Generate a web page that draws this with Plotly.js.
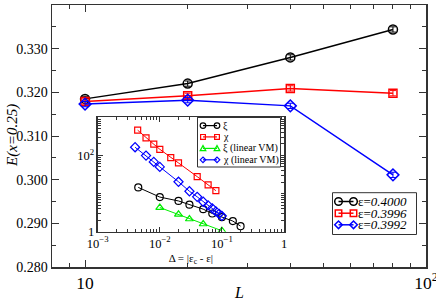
<!DOCTYPE html>
<html>
<head>
<meta charset="utf-8">
<script src="https://cdn.plot.ly/plotly-3.0.1.min.js"></script>
<style>html,body{margin:0;padding:0;background:#fff;}#plot{width:436px;height:301px;}</style>
</head>
<body>
<div id="plot"></div>
<script>
// ---- main chart data ----
const L = [10, 20, 40, 80];
const E_4000 = [0.3185, 0.3220, 0.3280, 0.3344];
const E_3996 = [0.3179, 0.3192, 0.3209, 0.3198];
const E_3992 = [0.3173, 0.3182, 0.3169, 0.3011];
const errE = [0.0006, 0.0006, 0.0006, 0.0006];
const seriesNames = ['ε=<i>0.4000</i>', 'ε=<i>0.3996</i>', 'ε=<i>0.3992</i>'];

// ---- inset data ----
const dXi = [0.0045, 0.01, 0.02, 0.03, 0.05, 0.07, 0.1, 0.15, 0.2];
const xi = [14.5, 8.1, 6.4, 5.1, 3.9, 3.0, 2.4, 1.9, 1.4];
const dChi = [0.0044, 0.006, 0.008, 0.01, 0.015, 0.02, 0.04, 0.06, 0.08];
const chi = [459, 288, 197, 145, 87.5, 63.5, 27.8, 16.8, 11.9];
const dXiVM = [0.01, 0.02, 0.03, 0.05, 0.1];
const xiVM = [4.3, 2.86, 2.15, 1.59, 1.06];
const dChiVM = [0.004, 0.006, 0.008, 0.01, 0.02, 0.03, 0.04, 0.05, 0.06, 0.07, 0.08, 0.09, 0.1];
const chiVM = [164, 99, 67.5, 50, 20.4, 11.5, 8.2, 6.1, 4.9, 4.1, 3.4, 2.95, 2.6];
const insetNames = ['ξ', 'χ', 'ξ (linear VM)', 'χ (linear VM)'];

const FONT = 'Liberation Serif, Times New Roman, serif';
const W = 436, H = 301;
const M = {l: 52, r: 10, t: 5, b: 34};
const PW = W - M.l - M.r, PH = H - M.t - M.b;
const px = v => (v - M.l) / PW;          // pixel x -> paper
const py = v => (H - M.b - v) / PH;      // pixel y -> paper

const mainColors = ['#000000', '#ff0000', '#0000ff'];
const mainSymbols = ['circle', 'square', 'diamond'];
const insetColors = ['#000000', '#ff0000', '#00ee00', '#0000ff'];
const insetSymbols = ['circle', 'square', 'triangle-up', 'diamond'];

function mainTrace(y, i) {
  const c = mainColors[i];
  return {
    x: L, y: y, name: seriesNames[i], type: 'scatter', mode: 'lines+markers', showlegend: false,
    line: {color: c, width: 1.5},
    marker: {symbol: mainSymbols[i] + '-open', size: mainSymbols[i] === 'square' ? 8 : 9, color: c, line: {color: c, width: 1.5}},
    error_y: {type: 'data', array: errE, visible: true, color: c, thickness: 1, width: 3}
  };
}
function insetTrace(x, y, i) {
  const c = insetColors[i];
  return {
    x: x, y: y, name: insetNames[i], type: 'scatter', mode: 'lines+markers', showlegend: false,
    xaxis: 'x2', yaxis: 'y2',
    line: {color: c, width: 1},
    marker: {symbol: insetSymbols[i] + '-open', size: insetSymbols[i] === 'square' ? 6 : 7, color: c, line: {color: c, width: 1.2}}
  };
}

const data = [
  mainTrace(E_4000, 0), mainTrace(E_3996, 1), mainTrace(E_3992, 2),
  insetTrace(dXi, xi, 0), insetTrace(dChi, chi, 1), insetTrace(dXiVM, xiVM, 2), insetTrace(dChiVM, chiVM, 3)
];

// ---- legend glyphs (xmgrace style: marker at both ends of a short line) ----
const shapes = [], annotations = [];
function glyph(sym, cx, cy, r, color, lw) {
  const base = {xref: 'paper', yref: 'paper', line: {color: color, width: lw}, fillcolor: 'rgba(0,0,0,0)', layer: 'above'};
  if (sym === 'circle') {
    shapes.push(Object.assign({type: 'circle', x0: px(cx - r), x1: px(cx + r), y0: py(cy + r), y1: py(cy - r)}, base));
  } else if (sym === 'square') {
    const s = r * 0.85;
    shapes.push(Object.assign({type: 'rect', x0: px(cx - s), x1: px(cx + s), y0: py(cy + s), y1: py(cy - s)}, base));
  } else if (sym === 'diamond') {
    shapes.push(Object.assign({type: 'path', path: `M${px(cx - r)},${py(cy)} L${px(cx)},${py(cy - r)} L${px(cx + r)},${py(cy)} L${px(cx)},${py(cy + r)} Z`}, base));
  } else {
    shapes.push(Object.assign({type: 'path', path: `M${px(cx - r)},${py(cy + r * 0.8)} L${px(cx)},${py(cy - r)} L${px(cx + r)},${py(cy + r * 0.8)} Z`}, base));
  }
}
function legendBox(box, rows, names, colors, symbols, xA, xB, xT, r, fs, lw) {
  shapes.push({type: 'rect', xref: 'paper', yref: 'paper', x0: px(box[0]), x1: px(box[1]), y0: py(box[3]), y1: py(box[2]),
    line: {color: '#333', width: 1}, fillcolor: '#ffffff', layer: 'above'});
  names.forEach((n, i) => {
    const cy = rows[i];
    shapes.push({type: 'line', xref: 'paper', yref: 'paper', x0: px(xA), x1: px(xB), y0: py(cy), y1: py(cy),
      line: {color: colors[i], width: lw}, layer: 'above'});
    glyph(symbols[i], xA, cy, r, colors[i], lw);
    glyph(symbols[i], xB, cy, r, colors[i], lw);
    annotations.push({xref: 'paper', yref: 'paper', x: px(xT), y: py(cy), xanchor: 'left', yanchor: 'middle',
      text: n, showarrow: false, borderpad: 0, font: {size: fs, family: FONT, color: '#000'}});
  });
}
legendBox([332.5, 416.5, 192.7, 234.5], [201.5, 213.2, 224.8], seriesNames, mainColors, mainSymbols,
  338.5, 353.5, 357, 3.8, 13, 1.5);
legendBox([197.5, 280.5, 117.5, 167], [125.6, 136.9, 148.4, 159.8], insetNames, insetColors, insetSymbols,
  203, 217, 221.5, 2.8, 10, 1.2);

// axis titles
annotations.push({xref: 'paper', yref: 'paper', x: px(12), y: py(136), textangle: -90, xanchor: 'center', yanchor: 'middle',
  text: '<i>E(x=0.25)</i>', showarrow: false, borderpad: 0, font: {size: 15, family: FONT, color: '#000'}});
annotations.push({xref: 'paper', yref: 'paper', x: px(239), y: py(292.5), xanchor: 'center', yanchor: 'middle',
  text: '<i>L</i>', showarrow: false, borderpad: 0, font: {size: 16, family: FONT, color: '#000'}});

const axLine = '#333333';
const layout = {
  width: W, height: H,
  margin: M,
  paper_bgcolor: '#ffffff', plot_bgcolor: '#ffffff',
  font: {family: FONT, color: '#000', size: 14},
  showlegend: false,
  shapes: shapes, annotations: annotations,
  xaxis: {
    type: 'log', range: [Math.log10(8), 2], dtick: 1, exponentformat: 'power', ticklabeloverflow: 'allow',
    ticks: 'inside', ticklen: 7, tickcolor: axLine, showline: true, linecolor: axLine, linewidth: 1.5,
    mirror: 'allticks', showgrid: false, zeroline: false,
    minor: {ticks: 'inside', ticklen: 4, dtick: 'D1', tickcolor: axLine, showgrid: false},
    tickfont: {size: 14, family: FONT}
  },
  yaxis: {
    range: [0.28, 0.34], dtick: 0.01, tickformat: '.3f',
    ticks: 'inside', ticklen: 7, tickcolor: axLine, showline: true, linecolor: axLine, linewidth: 1.5,
    mirror: 'allticks', showgrid: false, zeroline: false,
    minor: {ticks: 'inside', ticklen: 4, dtick: 0.005, tickcolor: axLine, showgrid: false},
    tickfont: {size: 14, family: FONT}
  },
  xaxis2: {
    domain: [px(97.7), px(284)], anchor: 'y2', type: 'log', range: [-3, 0], dtick: 1, exponentformat: 'power',
    ticks: 'inside', ticklen: 5, tickcolor: axLine, showline: true, linecolor: axLine, linewidth: 1.5,
    mirror: 'allticks', showgrid: false, zeroline: false,
    minor: {ticks: 'inside', ticklen: 3, dtick: 'D1', tickcolor: axLine, showgrid: false},
    tickfont: {size: 10, family: FONT},
    title: {text: 'Δ = |ε<sub>c</sub> - ε|', font: {size: 11, family: FONT}, standoff: 4}
  },
  yaxis2: {
    domain: [py(231.7), py(117.3)], anchor: 'x2', type: 'log', range: [0, 3], dtick: 2, exponentformat: 'power',
    ticks: 'inside', ticklen: 5, tickcolor: axLine, showline: true, linecolor: axLine, linewidth: 1.5,
    mirror: 'allticks', showgrid: false, zeroline: false,
    minor: {ticks: 'inside', ticklen: 3, dtick: 'D1', tickcolor: axLine, showgrid: false},
    tickfont: {size: 10, family: FONT}
  }
};

Plotly.newPlot('plot', data, layout, {displayModeBar: false, staticPlot: true});
</script>
</body>
</html>
